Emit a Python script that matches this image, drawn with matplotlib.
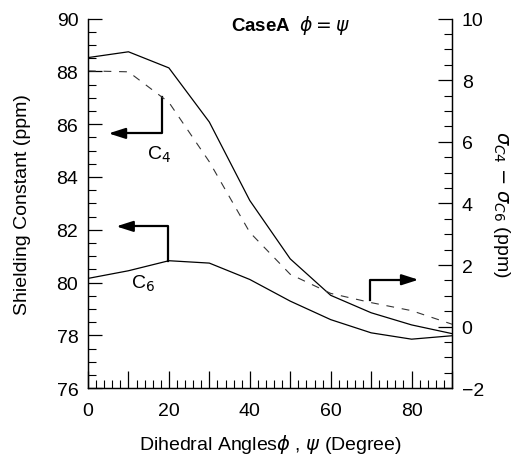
import matplotlib
matplotlib.use("Agg")
import matplotlib.pyplot as plt
from matplotlib.ticker import MultipleLocator, FuncFormatter

# dihedral angle (deg) and shielding constants
angles = [0, 10, 20, 30, 40, 50, 60, 70, 80, 90]
sigma_c4 = [88.52, 88.74, 88.13, 86.08, 83.11, 80.90, 79.52, 78.86, 78.40, 78.07]
sigma_c6 = [80.16, 80.45, 80.83, 80.74, 80.12, 79.30, 78.60, 78.10, 77.86, 77.99]
sigma_diff = [8.30, 8.27, 7.28, 5.35, 3.06, 1.70, 1.08, 0.78, 0.52, 0.08]

plt.rcParams["font.family"] = ["Liberation Sans", "DejaVu Sans"]
plt.rcParams["mathtext.fontset"] = "dejavusans"

fig = plt.figure(figsize=(5.25, 4.6), dpi=100)
ax = fig.add_axes([0.1676, 0.1537, 0.6934, 0.8039])
ax2 = ax.twinx()

ax.plot(angles, sigma_c4, color="black", lw=0.9)
ax.plot(angles, sigma_c6, color="black", lw=0.9)
ax2.plot(angles, sigma_diff, color="#333333", lw=0.8, linestyle=(0, (7, 7)))

ax.set_xlim(0, 90)
ax.set_ylim(76, 90)
ax2.set_ylim(-2, 10)

for a in (ax, ax2):
    a.spines["top"].set_visible(False)
    for s in a.spines.values():
        s.set_linewidth(0.9)

ax.xaxis.set_major_locator(MultipleLocator(10))
ax.xaxis.set_minor_locator(MultipleLocator(2))
ax.xaxis.set_major_formatter(FuncFormatter(lambda v, p: f"{v:.0f}" if round(v) % 20 == 0 else ""))
ax.yaxis.set_major_locator(MultipleLocator(2))
ax.yaxis.set_minor_locator(MultipleLocator(0.5))
ax2.yaxis.set_major_locator(MultipleLocator(2))
ax2.yaxis.set_minor_locator(MultipleLocator(0.5))

ax.tick_params(axis="x", which="major", direction="in", length=12, width=0.9, labelsize=14, pad=10)
ax.tick_params(axis="x", which="minor", direction="in", length=6, width=0.8)
ax.tick_params(axis="y", which="major", direction="in", length=10, width=0.9, labelsize=14, pad=7)
ax.tick_params(axis="y", which="minor", direction="in", length=6, width=0.8)
ax2.tick_params(axis="y", which="major", direction="in", length=10, width=0.9, labelsize=14, pad=7)
ax2.tick_params(axis="y", which="minor", direction="in", length=6, width=0.8)

ax.set_xlabel(r"Dihedral Angles$\phi$ , $\psi$ (Degree)", fontsize=14, labelpad=9)
ax.set_ylabel("Shielding Constant (ppm)", fontsize=14, labelpad=18)
ax2.set_ylabel(r"$\sigma_{C4}$ $-$ $\sigma_{C6}$ (ppm)", fontsize=14, rotation=270, labelpad=20)

ax.text(50, 89.78, r"CaseA  $\phi = \psi$", fontsize=13.5, fontweight="bold",
        ha="center", va="center")

# arrows pointing to the axis each curve belongs to
arrow_kw = dict(arrowstyle="-|>,head_length=1.0,head_width=0.32", color="black", lw=1.6)
ax.plot([18.4, 18.4, 8.0], [87.02, 85.65, 85.65], color="black", lw=1.6)
ax.annotate("", xy=(4.4, 85.65), xytext=(9.0, 85.65), arrowprops=arrow_kw)
ax.text(17.5, 84.87, r"C$_4$", fontsize=14, ha="center", va="center")

ax.plot([19.9, 19.9, 10.0], [80.83, 82.13, 82.13], color="black", lw=1.6)
ax.annotate("", xy=(6.3, 82.13), xytext=(11.0, 82.13), arrowprops=arrow_kw)
ax.text(13.6, 80.0, r"C$_6$", fontsize=14, ha="center", va="center")

ax.plot([69.7, 69.7, 78.5], [79.35, 80.11, 80.11], color="black", lw=1.6)
ax.annotate("", xy=(82.4, 80.11), xytext=(77.5, 80.11), arrowprops=arrow_kw)

fig.savefig("out.png", dpi=100)
